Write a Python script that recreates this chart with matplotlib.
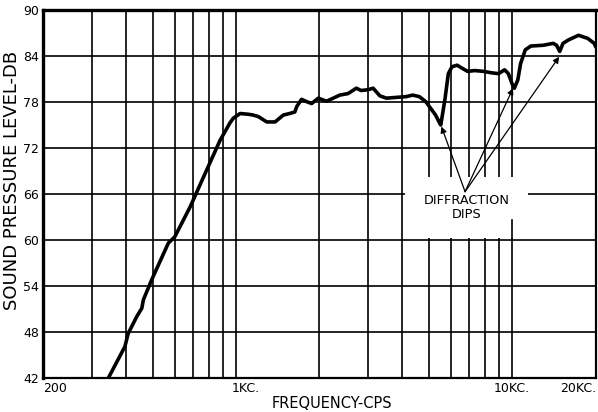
import numpy as np
import matplotlib
matplotlib.use("Agg")
import matplotlib.pyplot as plt
from matplotlib.patches import Rectangle

# ============ DATA ============
freq = [340, 345, 396, 407, 437, 456, 462, 495, 569, 600, 682, 794, 876, 952,
        979, 1036, 1109, 1153, 1205, 1293, 1386, 1485, 1566, 1634, 1660, 1728,
        1803, 1880, 1987, 2129, 2251, 2378, 2547, 2730, 2840, 3010, 3140, 3322,
        3508, 3806, 4136, 4370, 4615, 4870, 5020, 5285, 5478, 5520, 5713, 5880,
        6060, 6330, 6600, 6900, 7330, 7870, 8450, 8940, 9400, 9700, 10000,
        10200, 10500, 10740, 11170, 11700, 12970, 14100, 14500, 14890, 15300,
        16020, 17410, 18800, 19850, 20100]
spl_db = [41.6, 42.0, 46.1, 47.8, 50.0, 51.1, 52.2, 54.8, 59.6, 60.4, 64.3,
          69.6, 73.0, 75.3, 75.9, 76.5, 76.4, 76.3, 76.1, 75.4, 75.4, 76.3,
          76.5, 76.7, 77.4, 78.35, 78.05, 77.8, 78.5, 78.1, 78.5, 78.9, 79.1,
          79.8, 79.5, 79.6, 79.8, 78.8, 78.5, 78.6, 78.7, 78.9, 78.7, 78.05,
          77.4, 76.3, 75.2, 75.0, 78.3, 81.7, 82.6, 82.8, 82.4, 82.0, 82.1,
          82.0, 81.8, 81.7, 82.2, 81.7, 80.4, 79.8, 80.9, 83.0, 84.8, 85.3,
          85.4, 85.65, 85.4, 84.6, 85.65, 86.1, 86.7, 86.3, 85.65, 85.2]

# dips pointed at by the label arrows (freq, dB)
dip_f = [5550, 10090, 14820]
dip_db = [74.8, 79.8, 83.9]

y_ticks = [42, 48, 54, 60, 66, 72, 78, 84, 90]
x_grid = [300, 400, 500, 600, 700, 800, 900, 1000,
          2000, 3000, 4000, 5000, 6000, 7000, 8000, 9000, 10000]
x_labels = {200: "200", 1000: "1KC.", 10000: "10KC.", 20000: "20KC."}

# ============ FIGURE ============
plt.rcParams["font.family"] = ["DejaVu Sans"]
fig = plt.figure(figsize=(5.98, 4.12), dpi=100)
ax = fig.add_axes([43 / 598, 34 / 412, 553 / 598, 368 / 412])
ax.set_xscale("log")
ax.set_xlim(200, 20150)
ax.set_ylim(42, 90)

# grid lines
for f in x_grid:
    ax.axvline(f, color="black", lw=1.2, zorder=1)
for y in y_ticks[1:-1]:
    ax.axhline(y, color="black", lw=1.2, zorder=1)

# blank area around the annotation text
ax.add_patch(Rectangle((4080, 60.3), 11430 - 4080, 68.2 - 60.3,
                       facecolor="white", edgecolor="none", zorder=1.5))
ax.plot([10000, 10000], [60, 62.6], color="black", lw=1.2, zorder=1.6)

# response curve
ax.plot(freq, spl_db, color="black", lw=2.6, solid_joinstyle="round",
        solid_capstyle="round", zorder=3)

# annotation
ax.text(6875, 64.3, "DIFFRACTION\nDIPS", ha="center", va="center",
        fontsize=9.3, linespacing=1.1, zorder=4)
for fx, fy in zip(dip_f, dip_db):
    ax.annotate("", xy=(fx, fy), xytext=(6760, 66.3),
                arrowprops=dict(arrowstyle="-|>", color="black", lw=0.9,
                                mutation_scale=9, shrinkA=0, shrinkB=0),
                zorder=4)

# axes frame
for side, w in (("left", 2.4), ("top", 2.4), ("bottom", 1.6), ("right", 1.6)):
    ax.spines[side].set_linewidth(w)
    ax.spines[side].set_color("black")

ax.set_yticks(y_ticks)
ax.set_yticklabels([str(v) for v in y_ticks], fontsize=9)
ax.tick_params(axis="y", length=0, pad=3)
ax.set_xticks([])
ax.xaxis.set_minor_locator(matplotlib.ticker.NullLocator())

# frequency labels under the axis
xt = ax.get_xaxis_transform()
ax.text(200, -0.012, x_labels[200], transform=xt, ha="left", va="top", fontsize=9)
ax.text(965, -0.012, x_labels[1000], transform=xt, ha="left", va="top", fontsize=9)
ax.text(10000, -0.012, x_labels[10000], transform=xt, ha="center", va="top", fontsize=9)
ax.text(20150, -0.012, x_labels[20000], transform=xt, ha="right", va="top", fontsize=9)

fig.text(332 / 598, 1 - 404 / 412, "FREQUENCY-CPS", ha="center", va="center",
         fontsize=10.5)
fig.text(12 / 598, 1 - 180 / 412, "SOUND PRESSURE LEVEL-DB", ha="center",
         va="center", rotation=90, fontsize=13)

fig.savefig("out.png", dpi=100)
